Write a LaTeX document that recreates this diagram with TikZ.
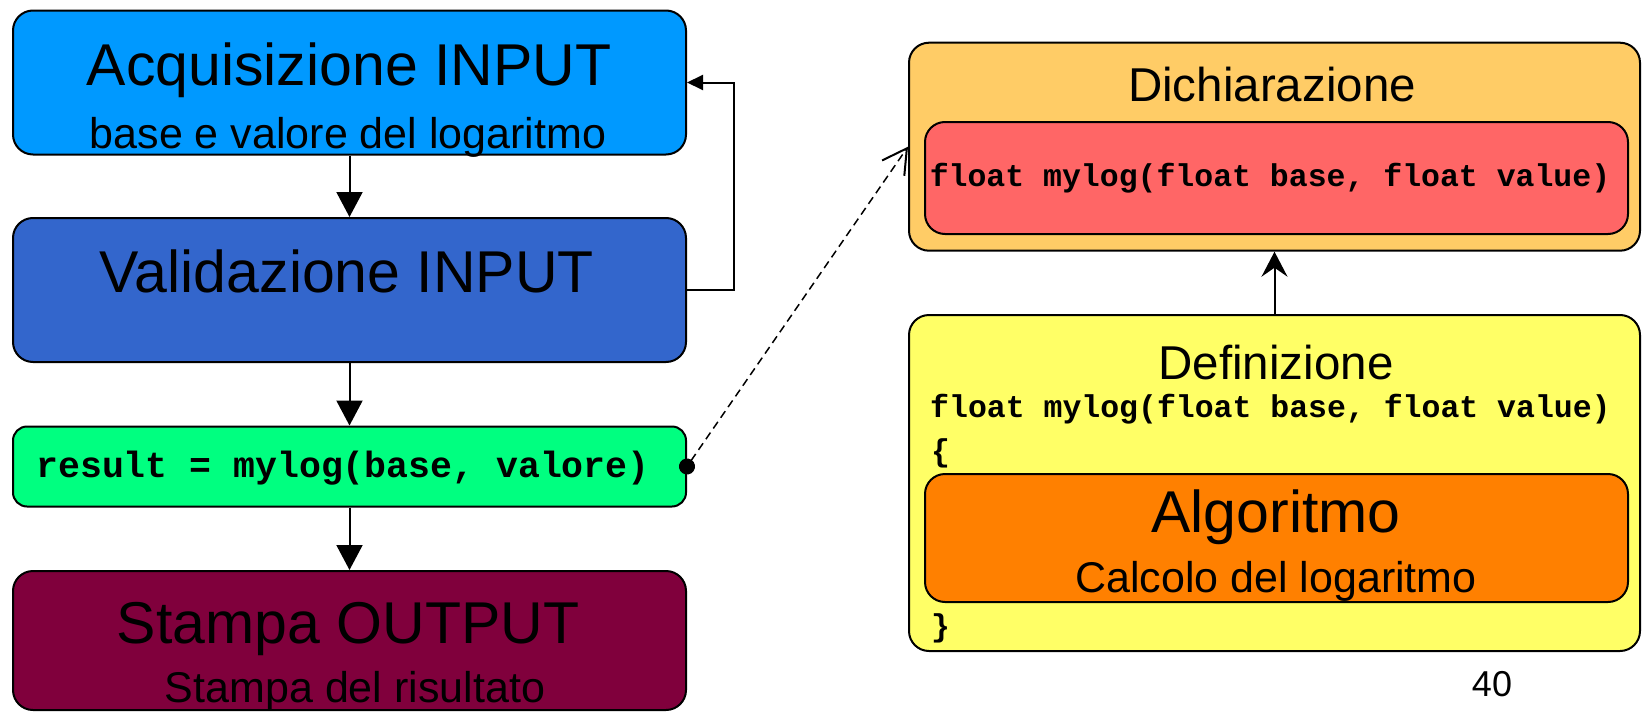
\documentclass[tikz,border=0pt]{standalone}
\usepackage{fontspec}
\setmainfont{Liberation Sans}
\setmonofont{Liberation Mono}
\usetikzlibrary{arrows.meta}

\newcommand{\bigtitle}{\fontsize{59}{61}\selectfont}
\newcommand{\midtitle}{\fontsize{47.5}{50}\selectfont}
\newcommand{\subtitle}{\fontsize{43}{45}\selectfont}
\newcommand{\codetxt}{\fontsize{31.5}{33}\selectfont\ttfamily\bfseries}

\tikzset{
  box/.style={draw, line width=2pt, rounded corners=20pt, inner sep=0pt},
  txt/.style={anchor=base, inner sep=0pt},
  flow/.style={line width=2pt, -{Triangle[length=25pt,width=26pt]}},
}

\begin{document}
\begin{tikzpicture}[x=1pt,y=-1pt]
  \useasboundingbox (0,0) rectangle (1642,712);

  % left column: main program
  \node[box, fill={rgb,255:red,0;green,153;blue,255}, minimum width=673pt, minimum height=144pt] (acq) at (349.5,82.5) {};
  \node[box, fill={rgb,255:red,51;green,102;blue,204}, minimum width=673pt, minimum height=144pt] (val) at (349.5,290) {};
  \node[box, rounded corners=14pt, fill={rgb,255:red,0;green,255;blue,128}, minimum width=673pt, minimum height=80pt] (res) at (349.5,466.5) {};
  \node[box, fill={rgb,255:red,128;green,0;blue,60}, minimum width=673pt, minimum height=139pt] (out) at (349.5,640.5) {};

  \node[txt] (acqtitle) at (349,85) {\bigtitle Acquisizione INPUT};
  \node[txt] (acqsub) at (348,148) {\subtitle base e valore del logaritmo};
  \node[txt] (valtitle) at (347,292.5) {\bigtitle Validazione INPUT};
  \node[txt] (restxt) at (343,477) {\fontsize{36.5}{38}\selectfont\ttfamily\bfseries result = mylog(base, valore)};
  \node[txt] (outtitle) at (348,643) {\bigtitle Stampa OUTPUT};
  \node[txt] (outsub) at (355,702) {\subtitle Stampa del risultato};

  \draw[flow] (acq) -- (val);
  \draw[flow] (val) -- (res);
  \draw[flow] (res) -- (out);
  \draw[line width=2pt, -{Triangle[length=16pt,width=15pt]}] (val.east) -- ++(47,0) |- (acq.east);

  % right column: the function
  \node[box, fill={rgb,255:red,255;green,204;blue,102}, minimum width=731pt, minimum height=208pt] (dich) at (1274.5,146.7) {};
  \node[box, fill={rgb,255:red,255;green,102;blue,102}, minimum width=703pt, minimum height=112pt] (decl) at (1276.5,178) {};
  \node[box, fill={rgb,255:red,255;green,255;blue,102}, minimum width=731pt, minimum height=336pt] (defn) at (1274.5,483) {};
  \node[box, fill={rgb,255:red,255;green,128;blue,0}, minimum width=703pt, minimum height=128pt] (algo) at (1276.5,538) {};

  \node[txt] (dichtitle) at (1272,101.7) {\midtitle Dichiarazione};
  \node[txt] (decltxt) at (1270,186.7) {\codetxt float mylog(float base, float value)};
  \node[txt] (defntitle) at (1276,379) {\midtitle Definizione};
  \node[txt, anchor=base west] (defnhead) at (930,417) {\codetxt float mylog(float base, float value)};
  \node[txt, anchor=base west] (openbr) at (931,461) {\codetxt \{};
  \node[txt] (algotitle) at (1276,532) {\bigtitle Algoritmo};
  \node[txt] (algosub) at (1276,592) {\subtitle Calcolo del logaritmo};
  \node[txt, anchor=base west] (closebr) at (931,636) {\codetxt \}};

  \draw[line width=2pt, -{Stealth[length=25pt,width=26pt,inset=9pt]}] (defn) -- (dich);
  \draw[line width=1.5pt, dashed, dash pattern=on 8pt off 5pt, shorten <=-8pt,
    {Circle[length=16pt]}-{Straight Barb[length=24pt,width=27pt,line width=2pt]}] (res.east) -- (dich.west);

  \node[txt] (pagenum) at (1492,696) {\fontsize{36}{38}\selectfont 40};
\end{tikzpicture}
\end{document}
